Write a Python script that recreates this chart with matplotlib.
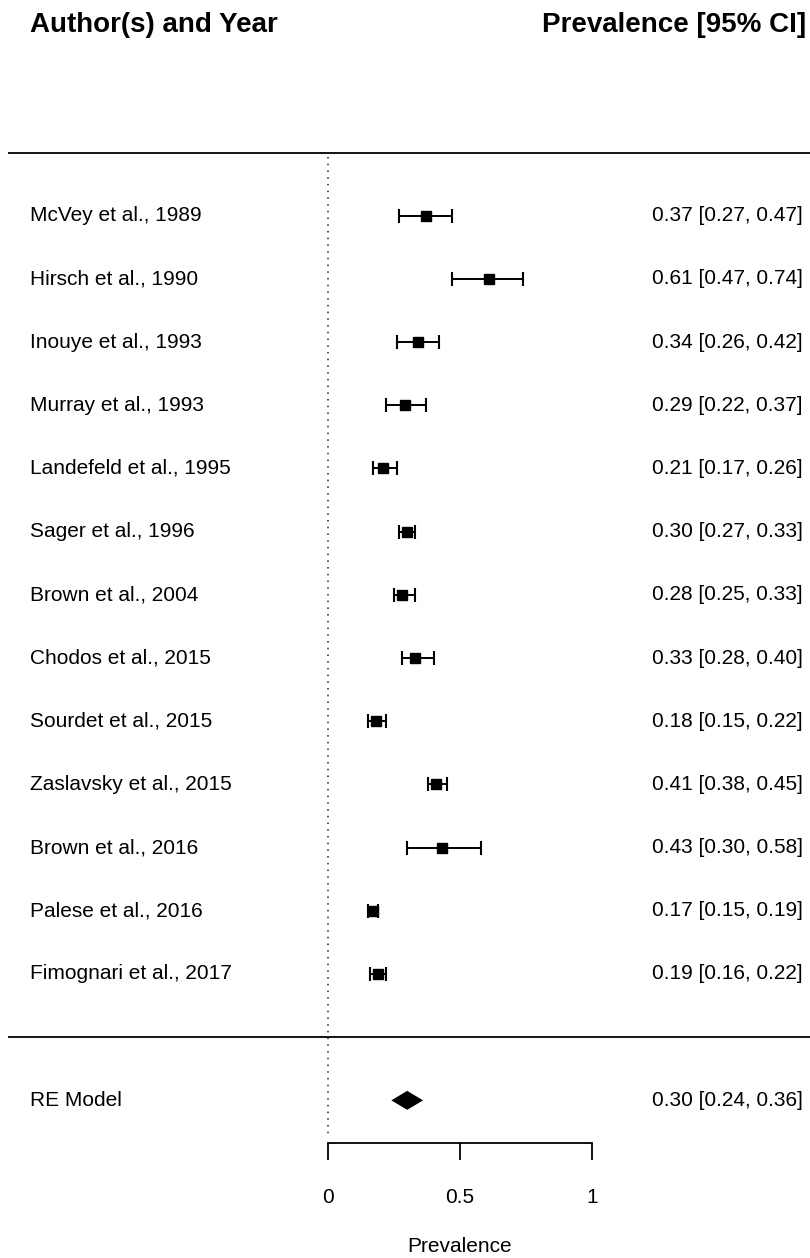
import numpy as np
import matplotlib
matplotlib.use("Agg")
import matplotlib.pyplot as plt

plt.rcParams['font.family'] = ['Liberation Sans', 'DejaVu Sans']

# dados
estudos = [
    "McVey et al., 1989",
    "Hirsch et al., 1990",
    "Inouye et al., 1993",
    "Murray et al., 1993",
    "Landefeld et al., 1995",
    "Sager et al., 1996",
    "Brown et al., 2004",
    "Chodos et al., 2015",
    "Sourdet et al., 2015",
    "Zaslavsky et al., 2015",
    "Brown et al., 2016",
    "Palese et al., 2016",
    "Fimognari et al., 2017",
]
prev = [0.37, 0.61, 0.34, 0.29, 0.21, 0.30, 0.28, 0.33, 0.18, 0.41, 0.43, 0.17, 0.19]
ic_inf = [0.27, 0.47, 0.26, 0.22, 0.17, 0.27, 0.25, 0.28, 0.15, 0.38, 0.30, 0.15, 0.16]
ic_sup = [0.47, 0.74, 0.42, 0.37, 0.26, 0.33, 0.33, 0.40, 0.22, 0.45, 0.58, 0.19, 0.22]

re_est, re_inf, re_sup = 0.30, 0.24, 0.36
xticks = [0, 0.5, 1]
xtick_labels = ["0", "0.5", "1"]

k = len(estudos)
linhas = np.arange(k, 0, -1)  # 13 ... 1
linha_re = -1

# geometria (pixels -> unidades de dado)
PX_X = 264.0   # px por unidade de prevalencia
PX_Y = 63.19   # px por linha
x0 = 328.0
y_top_row = 215.7

def lin(py):
    return k - (py - y_top_row) / PX_Y

def col(px):
    return (px - x0) / PX_X

fig = plt.figure(figsize=(8.10, 12.58), dpi=100)
ax = fig.add_axes([0, 0, 1, 1])
ax.set_xlim(col(0), col(810))
ax.set_ylim(lin(1258), lin(0))

for s in ['left', 'right', 'top']:
    ax.spines[s].set_visible(False)
ax.set_yticks([])

# linhas horizontais
for r in [k + 1, 0]:
    ax.plot([col(8), col(810)], [r, r], color='black', lw=1.3, solid_capstyle='butt')

# linha vertical pontilhada em 0
ax.plot([0, 0], [k + 0.93, lin(1138)], color='#222222', lw=1.1,
        linestyle=(0, (1, 3.4)))

# estudos
lo = np.array(prev) - np.array(ic_inf)
hi = np.array(ic_sup) - np.array(prev)
ax.errorbar(prev, linhas, xerr=[lo, hi], fmt='s', color='black',
            ms=7.4, elinewidth=1.4, capsize=5.3, capthick=1.5)

# diamante RE
h = 9.5 / PX_Y
ax.fill([re_inf, re_est, re_sup, re_est], [linha_re, linha_re + h, linha_re, linha_re - h],
        color='black', lw=0)

# textos
fs = 15
for nome, r, e, a, b in zip(estudos, linhas, prev, ic_inf, ic_sup):
    ax.text(col(30), r, nome, ha='left', va='center', fontsize=fs)
    ax.text(col(803), r, f"{e:.2f} [{a:.2f}, {b:.2f}]", ha='right', va='center', fontsize=fs)
ax.text(col(30), linha_re, "RE Model", ha='left', va='center', fontsize=fs)
ax.text(col(803), linha_re, f"{re_est:.2f} [{re_inf:.2f}, {re_sup:.2f}]",
        ha='right', va='center', fontsize=fs)

ax.text(col(30), lin(25), "Author(s) and Year", ha='left', va='center',
        fontsize=20, fontweight='bold')
ax.text(col(806), lin(25), "Prevalence [95% CI]", ha='right', va='center',
        fontsize=20, fontweight='bold')

# eixo x
ax.spines['bottom'].set_position(('data', lin(1143)))
ax.spines['bottom'].set_bounds(0, 1)
ax.spines['bottom'].set_linewidth(1.3)
ax.set_xticks(xticks)
ax.set_xticklabels(xtick_labels, fontsize=fs)
ax.tick_params(axis='x', direction='out', length=12.2, width=1.3, pad=20)
ax.text(0.5, lin(1246), "Prevalence", ha='center', va='center', fontsize=fs)

fig.savefig("out.png", dpi=100)
